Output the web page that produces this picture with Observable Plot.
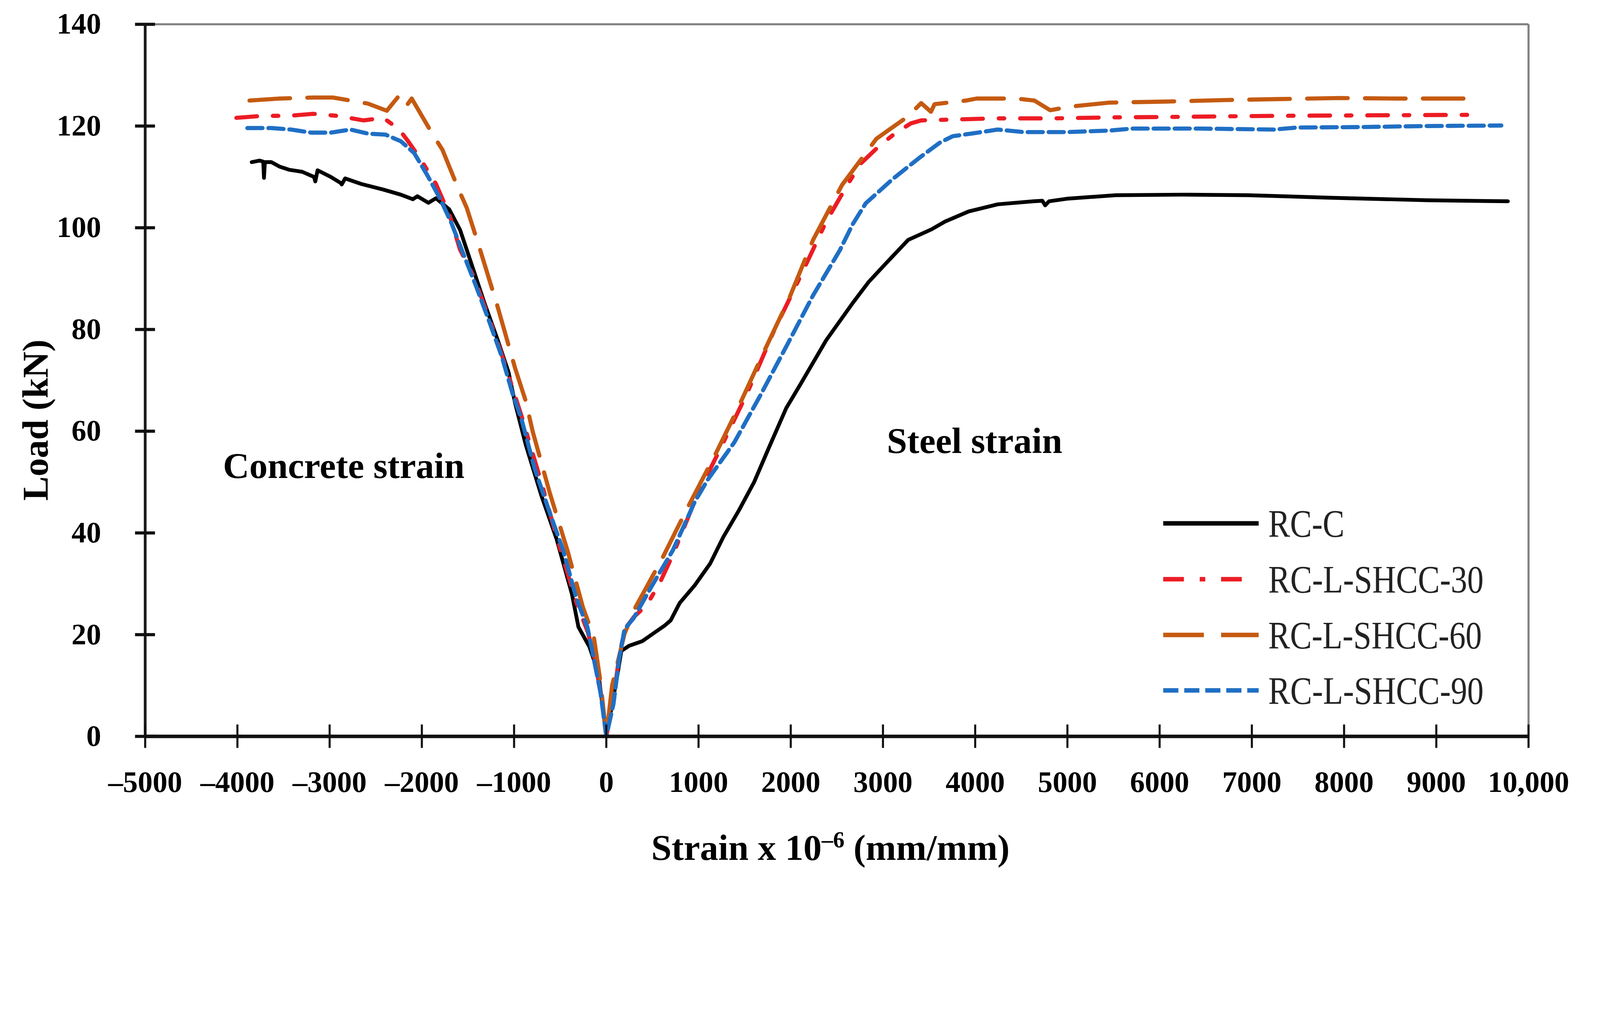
<!DOCTYPE html>
<html>
<head>
<meta charset="utf-8">
<script src="https://cdn.jsdelivr.net/npm/d3@7"></script>
<script src="https://cdn.jsdelivr.net/npm/@observablehq/plot@0.6"></script>
<style>
  body { margin: 0; background: #fff; }
  #chart svg { display: block; }
</style>
</head>
<body>
<div id="chart"></div>
<script>
// series names, colours, dash patterns
const series = ["RC-C", "RC-L-SHCC-30", "RC-L-SHCC-60", "RC-L-SHCC-90"];
const colors = ["#000000", "#ed1c24", "#c55a11", "#1f6fc4"];
const dashes = [null, "60,46,16,46", "118,50", "44,17"];

// RC-C (strain x 10^-6, load kN), concrete side first, then steel side
const rcC_strain = [-3845, -3760, -3720, -3712, -3702, -3631, -3540, -3440, -3298, -3170, -3155, -3131, -2989, -2880, -2869, -2832, -2657, -2418, -2228, -2097, -2049, -1929, -1847, -1703, -1586, -1466, -1323, -1179, -1060, -989, -873, -705, -539, -373, -302, -183, -86, 0,
  116, 163, 246, 388, 507, 627, 698, 795, 959, 1127, 1269, 1437, 1603, 1769, 1950, 2101, 2385, 2672, 2843, 3043, 3273, 3528, 3672, 3929, 4243, 4634, 4728, 4759, 4800, 4993, 5526, 6241, 6955, 7847, 8918, 9776];
const rcC_load = [112.9, 113.2, 113.0, 109.8, 112.9, 112.9, 112.0, 111.4, 111.0, 110.0, 109.1, 111.3, 110.0, 108.8, 108.5, 109.7, 108.6, 107.5, 106.5, 105.6, 106.2, 104.9, 105.8, 103.6, 99.6, 93.1, 85.3, 78.0, 71.6, 65.5, 57.3, 47.4, 38.8, 28.0, 21.5, 17.6, 12.5, 0,
  11.6, 16.8, 17.8, 18.7, 20.2, 21.7, 22.8, 26.2, 29.7, 34.0, 39.2, 44.4, 50.0, 57.0, 64.5, 69.1, 77.9, 85.2, 89.3, 93.2, 97.6, 99.7, 101.2, 103.2, 104.6, 105.2, 105.3, 104.4, 105.2, 105.7, 106.4, 106.5, 106.4, 105.9, 105.4, 105.2];

// RC-L-SHCC-30
const s30_strain = [-4011, -3728, -3440, -3179, -2918, -2631, -2418, -2250, -2157, -2026, -1847, -1700, -1586, -1441, -1276, -1132, -918, -683, -539, -324, -200, -130, -60, 0,
  75, 138, 198, 300, 437, 578, 722, 985, 1243, 1530, 1813, 2101, 2384, 2600, 2757, 2955, 3127, 3300, 3414, 3813, 4213, 4843, 5500, 6200, 7241, 8300, 9437];
const s30_load = [121.6, 122.0, 122.0, 122.4, 122.0, 121.1, 121.6, 119.4, 117.2, 113.8, 108.6, 102.5, 95.7, 90.5, 82.5, 75.0, 62.9, 48.6, 39.2, 26.3, 20.5, 15.5, 8.5, 0,
  7.0, 15.5, 21.0, 23.5, 25.8, 30.1, 35.7, 47.4, 56.8, 67.6, 79.5, 90.3, 101.2, 108.0, 112.6, 116.0, 118.5, 120.5, 121.1, 121.3, 121.5, 121.5, 121.7, 121.8, 122.0, 122.1, 122.2];

// RC-L-SHCC-60
const s60_strain = [-3869, -3537, -3179, -2965, -2584, -2380, -2250, -2170, -2110, -1894, -1776, -1608, -1513, -1369, -1179, -989, -873, -799, -612, -422, -254, -134, -63, 0,
  63, 198, 317, 604, 888, 1101, 1198, 1414, 1701, 1985, 2242, 2556, 2929, 3272, 3414, 3520, 3560, 3900, 4015, 4440, 4642, 4813, 5026, 5455, 6063, 6705, 7313, 7955, 8564, 9418];
const s60_load = [125.0, 125.4, 125.6, 125.6, 124.4, 123.0, 125.9, 123.9, 125.4, 118.7, 115.3, 107.8, 103.9, 95.7, 84.5, 72.4, 65.9, 60.0, 47.8, 36.6, 25.4, 19.4, 10.7, 0,
  10.0, 20.2, 25.4, 34.9, 45.2, 52.6, 56.0, 64.0, 75.3, 86.2, 97.6, 108.4, 117.5, 121.9, 124.5, 122.8, 124.3, 125.0, 125.4, 125.4, 125.0, 123.1, 123.8, 124.6, 124.8, 125.1, 125.3, 125.5, 125.4, 125.4];

// RC-L-SHCC-90
const s90_strain = [-3892, -3631, -3418, -3201, -2989, -2774, -2584, -2393, -2228, -2084, -1940, -1799, -1679, -1560, -1418, -1276, -1132, -1013, -920, -776, -612, -468, -324, -205, -134, -63, 0,
  78, 138, 198, 295, 485, 722, 959, 1101, 1388, 1672, 1959, 2242, 2530, 2672, 2813, 3101, 3384, 3614, 3757, 3955, 4243, 4526, 4993, 5455, 5705, 6418, 7241, 7491, 8205, 8918, 9705];
const s90_load = [119.6, 119.6, 119.3, 118.7, 118.7, 119.3, 118.5, 118.3, 117.0, 114.7, 110.3, 105.6, 100.9, 95.3, 88.8, 81.9, 74.6, 67.2, 62.4, 52.6, 43.9, 36.6, 27.1, 21.5, 15.1, 8.6, 0,
  6.4, 15.1, 21.1, 23.2, 29.3, 36.6, 46.1, 50.5, 57.8, 67.1, 76.9, 86.7, 95.5, 100.7, 104.8, 109.5, 113.6, 116.7, 118.0, 118.5, 119.3, 118.8, 118.8, 119.1, 119.5, 119.5, 119.3, 119.7, 119.8, 120.0, 120.1];

// ticks
const xTicks = [-5000, -4000, -3000, -2000, -1000, 0, 1000, 2000, 3000, 4000, 5000, 6000, 7000, 8000, 9000, 10000];
const yTicks = [0, 20, 40, 60, 80, 100, 120, 140];

// annotations
const noteLabels = ["Concrete strain", "Steel strain"];
const noteStrain = [-2847, 3993];
const noteLoad = [50.8, 55.7];

function rows(strain, load) {
  return strain.map((s, i) => ({strain: s, load: load[i]}));
}

const allStrain = [rcC_strain, s30_strain, s60_strain, s90_strain];
const allLoad = [rcC_load, s30_load, s60_load, s90_load];

const lines = series.map((name, i) =>
  Plot.line(rows(allStrain[i], allLoad[i]), {
    x: "strain", y: "load",
    stroke: colors[i],
    strokeWidth: i === 0 ? 11 : 12,
    strokeDasharray: dashes[i],
    strokeLinejoin: "round"
  })
);

const notes = noteLabels.map((t, i) => ({label: t, strain: noteStrain[i], load: noteLoad[i]}));

const fmtX = d => d === 10000 ? "10,000" : d < 0 ? "\u2013" + Math.abs(d) : String(d);

let chart = Plot.plot({
  width: 4645,
  height: 2589,
  marginLeft: 421,
  marginRight: 208,
  marginTop: 70,
  marginBottom: 451,
  style: {fontFamily: "Liberation Serif", background: "#fff", color: "#000"},
  x: {domain: [-5000, 10000], label: null},
  y: {domain: [0, 140], label: null},
  marks: [
    Plot.ruleY([140], {stroke: "#808080", strokeWidth: 6}),
    Plot.ruleX([10000], {stroke: "#808080", strokeWidth: 6}),
    ...lines,
    Plot.ruleX([-5000], {stroke: "#1a1a1a", strokeWidth: 8}),
    Plot.ruleY([0], {stroke: "#111", strokeWidth: 10}),
    Plot.ruleX(xTicks, {x: d => d, y1: 0, y2: 0, insetTop: -34, insetBottom: -34, stroke: "#111", strokeWidth: 6}),
    Plot.ruleY(yTicks, {y: d => d, x1: -5000, x2: -5000, insetLeft: -29, insetRight: -29, stroke: "#111", strokeWidth: 9}),
    Plot.axisX(xTicks, {tickSize: 0, tickPadding: 100, tickFormat: fmtX, fontSize: 86, fontWeight: "bold", label: null}),
    Plot.axisY(yTicks, {tickSize: 0, tickPadding: 128, fontSize: 86, fontWeight: "bold", label: null}),
    Plot.text(notes, {x: "strain", y: "load", text: "label", fontSize: 106, fontWeight: "bold", lineAnchor: "bottom", textAnchor: "middle", fill: "#000"})
  ]
});

const svg = d3.select(chart);

// axis titles
const xl = svg.append("text")
  .attr("x", 2411).attr("y", 2497)
  .attr("text-anchor", "middle")
  .attr("font-size", 106).attr("font-weight", "bold").attr("fill", "#000");
xl.append("tspan").text("Strain x 10");
xl.append("tspan").attr("font-size", 66).attr("dy", -36).text("\u20136");
xl.append("tspan").attr("dy", 36).text(" (mm/mm)");

svg.append("text")
  .attr("transform", "translate(138,1220) rotate(-90)")
  .attr("text-anchor", "middle")
  .attr("font-size", 106).attr("font-weight", "bold").attr("fill", "#000")
  .text("Load (kN)");

// legend
const legendY = [1520, 1682, 1844, 2005];
const legendLen = [277, 230, 277, 277];
const legendTextLen = [221, 625, 620, 625];
series.forEach((name, i) => {
  svg.append("line")
    .attr("x1", 3377).attr("x2", 3377 + legendLen[i])
    .attr("y1", legendY[i]).attr("y2", legendY[i])
    .attr("stroke", colors[i]).attr("stroke-width", 13)
    .attr("stroke-dasharray", dashes[i]);
  svg.append("text")
    .attr("x", 3682).attr("y", legendY[i]).attr("dy", "0.34em")
    .attr("text-anchor", "start")
    .attr("font-size", 112).attr("fill", "#222")
    .attr("textLength", legendTextLen[i]).attr("lengthAdjust", "spacingAndGlyphs")
    .text(name);
});

d3.select("#chart").append(() => chart);
</script>
</body>
</html>
